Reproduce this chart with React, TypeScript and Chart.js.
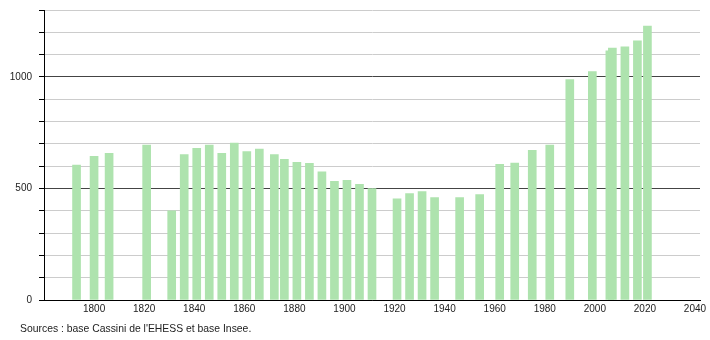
import React, { useEffect, useRef } from "react";
import { Chart, registerables } from "chart.js";

Chart.register(...registerables);

const years = [1793, 1800, 1806, 1821, 1831, 1836, 1841, 1846, 1851, 1856, 1861, 1866, 1872, 1876, 1881, 1886, 1891, 1896, 1901, 1906, 1911, 1921, 1926, 1931, 1936, 1946, 1954, 1962, 1968, 1975, 1982, 1990, 1999, 2006, 2007, 2012, 2017, 2021];
const population = [605, 644, 658, 695, 400, 652, 680, 694, 658, 703, 665, 676, 652, 631, 617, 613, 574, 532, 536, 518, 500, 454, 477, 486, 459, 459, 473, 608, 614, 671, 694, 988, 1024, 1117, 1129, 1135, 1162, 1228];
const xTickYears = [1800, 1820, 1840, 1860, 1880, 1900, 1920, 1940, 1960, 1980, 2000, 2020, 2040];
const yLabelValues = [0, 500, 1000];
const sourceText = "Sources : base Cassini de l'EHESS et base Insee.";

const FONT = '"Liberation Sans", Arial, sans-serif';

export default function App() {
  const ref = useRef<HTMLCanvasElement | null>(null);

  useEffect(() => {
    if (!ref.current) return;
    const sourcePlugin = {
      id: "sourceText",
      afterDraw(chart: any) {
        const ctx = chart.ctx;
        ctx.save();
        ctx.font = "10.4px " + FONT;
        ctx.fillStyle = "#222";
        ctx.textBaseline = "middle";
        ctx.textAlign = "left";
        ctx.fillText(sourceText, 20, 329);
        ctx.restore();
      },
    };
    const chart = new Chart(ref.current, {
      type: "bar",
      data: {
        datasets: [
          {
            data: years.map((y, i) => ({ x: y, y: population[i] })),
            backgroundColor: "rgb(174, 227, 174)",
            borderWidth: 0,
            barThickness: 8,
          },
        ],
      },
      options: {
        animation: false,
        responsive: false,
        maintainAspectRatio: false,
        layout: { padding: { left: 0, right: 10, top: 10, bottom: 0 } },
        plugins: {
          legend: { display: false },
          tooltip: { enabled: false },
        },
        scales: {
          x: {
            type: "linear",
            offset: false,
            min: 1780,
            max: 2042,
            grid: { display: false, drawTicks: false, offset: false },
            border: { display: true, color: "#000", width: 1 },
            afterBuildTicks: (s: any) => {
              s.ticks = xTickYears.map((v) => ({ value: v }));
            },
            ticks: {
              padding: 3,
              maxRotation: 0,
              autoSkip: false,
              color: "#222",
              font: { family: FONT, size: 10 },
              callback: (v: any) => String(v),
            },
            afterFit: (s: any) => {
              s.height = 40;
              s.paddingLeft = 0;
              s.paddingRight = 0;
            },
          },
          y: {
            min: 0,
            max: 1300,
            grid: {
              color: (c: any) => (c.tick && c.tick.value % 500 === 0 ? "#444" : "#ccc"),
              lineWidth: 1,
              drawTicks: true,
              tickLength: 5,
              tickColor: "#000",
            },
            border: { display: true, color: "#000", width: 1 },
            ticks: {
              stepSize: 100,
              padding: 7,
              autoSkip: false,
              color: "#222",
              font: { family: FONT, size: 10 },
              callback: (v: any) => (yLabelValues.includes(v) ? String(v) : ""),
            },
            afterFit: (s: any) => {
              s.width = 44;
              s.paddingTop = 0;
              s.paddingBottom = 0;
            },
          },
        },
      },
      plugins: [sourcePlugin],
    });
    return () => chart.destroy();
  }, []);

  return (
    <div style={{ position: "absolute", left: 0, top: 0, width: 710, height: 340, background: "#fff" }}>
      <canvas ref={ref} width={710} height={340} style={{ width: 710, height: 340 }} />
    </div>
  );
}
